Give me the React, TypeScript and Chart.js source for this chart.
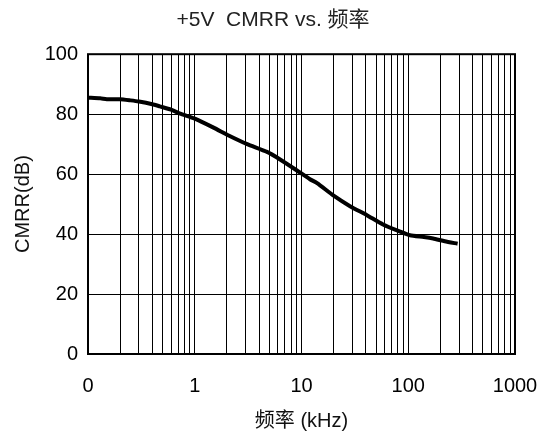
import React, { useEffect, useRef } from "react";
import { Chart, registerables } from "chart.js";

Chart.register(...registerables);

const titleText = "+5V  CMRR vs. 频率";
const xAxisTitle = "频率 (kHz)";
const yAxisTitle = "CMRR(dB)";

const freqKHz = [0.1, 0.13, 0.15, 0.2, 0.25, 0.3, 0.4, 0.47, 0.6, 0.73, 1, 1.5, 2.1, 3.1, 4.75, 6.3, 9, 12, 14, 20, 28.5, 41, 58, 84, 104, 140, 171, 220, 290];
const cmrrDb = [85.5, 85.3, 85.0, 85.0, 84.6, 84.2, 83.3, 82.6, 81.5, 80.2, 78.5, 75.5, 72.8, 70.0, 67.4, 64.9, 61.3, 58.3, 57.0, 52.8, 49.3, 46.3, 43.2, 40.8, 39.6, 39.0, 38.5, 37.6, 36.8];

const xDecades = [0.1, 1, 10, 100, 1000];
const xTickLabels = ["0", "1", "10", "100", "1000"];
const yMin = 0;
const yMax = 100;
const yStep = 20;

const FONT = "'Liberation Sans', Arial, 'Noto Sans CJK SC', sans-serif";

export default function App() {
  const ref = useRef<HTMLCanvasElement | null>(null);

  useEffect(() => {
    if (!ref.current) return;
    const gridValues: number[] = [];
    for (let d = 0; d < xDecades.length - 1; d++) {
      for (let k = 1; k <= 9; k++) gridValues.push(xDecades[d] * k);
    }
    gridValues.push(xDecades[xDecades.length - 1]);

    const framePlugin = {
      id: "frame",
      afterDraw(chart: any) {
        const { ctx, chartArea } = chart;
        ctx.save();
        ctx.strokeStyle = "#000";
        ctx.lineWidth = 2;
        ctx.strokeRect(chartArea.left, chartArea.top, chartArea.right - chartArea.left, chartArea.bottom - chartArea.top);
        ctx.restore();
      },
    };

    const chart = new Chart(ref.current, {
      type: "line",
      data: {
        datasets: [
          {
            data: freqKHz.map((f, i) => ({ x: f, y: cmrrDb[i] })),
            borderColor: "#000",
            borderWidth: 4,
            pointRadius: 0,
            tension: 0.2,
            fill: false,
          },
        ],
      },
      options: {
        responsive: false,
        animation: false,
        layout: { padding: 0 },
        plugins: {
          legend: { display: false },
          tooltip: { enabled: false },
          title: {
            display: true,
            text: titleText,
            color: "#222",
            font: { family: FONT, size: 21, weight: "normal", lineHeight: 1.2 },
            padding: { top: 8, bottom: 21 },
          },
        },
        scales: {
          x: {
            type: "logarithmic",
            min: xDecades[0],
            max: xDecades[xDecades.length - 1],
            afterBuildTicks(scale: any) {
              scale.ticks = gridValues.map((v) => ({ value: v }));
            },
            afterFit(scale: any) {
              scale.height = 88;
              scale.paddingRight = 31;
              scale.paddingLeft = 0;
            },
            grid: { color: "#000", lineWidth: 1, drawTicks: false },
            border: { display: false },
            ticks: {
              autoSkip: false,
              maxRotation: 0,
              minRotation: 0,
              padding: 20,
              color: "#000",
              font: { family: FONT, size: 20 },
              callback(value: any) {
                const v = Number(value);
                const idx = xDecades.findIndex((d) => Math.abs(d - v) / d < 1e-6);
                return idx >= 0 ? xTickLabels[idx] : "";
              },
            },
            title: {
              display: true,
              text: xAxisTitle,
              color: "#111",
              font: { family: FONT, size: 20, lineHeight: 1.2 },
              padding: { top: 0, bottom: 9 },
            },
          },
          y: {
            min: yMin,
            max: yMax,
            afterFit(scale: any) {
              scale.width = 88;
            },
            grid: { color: "#000", lineWidth: 1, drawTicks: false },
            border: { display: false },
            ticks: {
              stepSize: yStep,
              padding: 10,
              color: "#000",
              font: { family: FONT, size: 20 },
            },
            title: {
              display: true,
              text: yAxisTitle,
              color: "#111",
              font: { family: FONT, size: 20, lineHeight: 1.2 },
              padding: { top: 11, bottom: 0 },
            },
          },
        },
      },
      plugins: [framePlugin],
    } as any);

    return () => chart.destroy();
  }, []);

  return (
    <canvas
      ref={ref}
      width={546}
      height={442}
      style={{ position: "fixed", left: 0, top: 0, width: 546, height: 442, display: "block", background: "#fff" }}
    />
  );
}
